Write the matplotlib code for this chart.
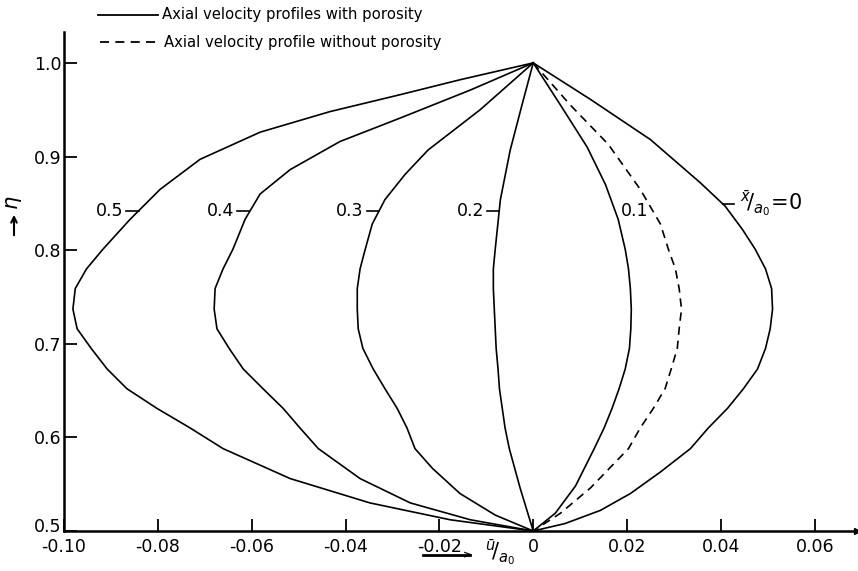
import matplotlib.pyplot as plt
from matplotlib.lines import Line2D
from matplotlib.transforms import ScaledTranslation

plt.rcParams['axes.unicode_minus'] = False
plt.rcParams['font.family'] = ['DejaVu Sans']

# axial velocity u/a0 against eta, one profile per x/a0 station
eta_05 = [1.0, 0.982, 0.966, 0.948, 0.926, 0.897, 0.865, 0.833, 0.801, 0.780, 0.759, 0.737,
          0.716, 0.695, 0.673, 0.652, 0.631, 0.610, 0.588, 0.556, 0.530, 0.512, 0.5]
u_05 = [0, -0.0156, -0.0284, -0.0433, -0.0582, -0.0710, -0.0795, -0.0859, -0.0917, -0.0952,
        -0.0976, -0.0981, -0.0972, -0.0942, -0.0908, -0.0866, -0.0802, -0.0731, -0.0661,
        -0.0518, -0.0348, -0.0177, 0]

eta_04 = [1.0, 0.971, 0.941, 0.916, 0.886, 0.860, 0.833, 0.801, 0.780, 0.759, 0.737, 0.716,
          0.695, 0.673, 0.652, 0.631, 0.610, 0.588, 0.556, 0.530, 0.512, 0.5]
u_04 = [0, -0.0134, -0.0284, -0.0412, -0.0518, -0.0582, -0.0614, -0.0640, -0.0661, -0.0678,
        -0.0680, -0.0674, -0.0648, -0.0618, -0.0576, -0.0533, -0.0497, -0.0458, -0.0369,
        -0.0262, -0.0134, 0]

eta_03 = [1.0, 0.950, 0.907, 0.881, 0.854, 0.828, 0.801, 0.780, 0.759, 0.737, 0.716, 0.695,
          0.673, 0.652, 0.631, 0.610, 0.588, 0.567, 0.540, 0.517, 0.5]
u_03 = [0, -0.0113, -0.0224, -0.0273, -0.0316, -0.0343, -0.0358, -0.0369, -0.0375, -0.0375,
        -0.0373, -0.0363, -0.0341, -0.0316, -0.0290, -0.0269, -0.0252, -0.0215, -0.0156,
        -0.0081, 0]

eta_02 = [1.0, 0.955, 0.907, 0.854, 0.801, 0.780, 0.759, 0.737, 0.716, 0.695, 0.673, 0.652,
          0.631, 0.610, 0.588, 0.546, 0.5]
u_02 = [0, -0.0024, -0.0049, -0.0070, -0.0081, -0.0085, -0.0085, -0.0083, -0.0081, -0.0079,
        -0.0075, -0.0072, -0.0066, -0.0060, -0.0051, -0.0028, 0]

eta_01 = [1.0, 0.955, 0.910, 0.870, 0.833, 0.801, 0.780, 0.759, 0.737, 0.716, 0.695, 0.673,
          0.652, 0.631, 0.610, 0.588, 0.548, 0.519, 0.5]
u_01 = [0, 0.0058, 0.0115, 0.0154, 0.0181, 0.0196, 0.0203, 0.0207, 0.0209, 0.0208, 0.0205,
        0.0196, 0.0183, 0.0168, 0.0151, 0.0130, 0.0090, 0.0047, 0]

eta_00 = [1.0, 0.961, 0.918, 0.872, 0.847, 0.822, 0.801, 0.780, 0.759, 0.737, 0.716, 0.695,
          0.673, 0.652, 0.631, 0.610, 0.588, 0.563, 0.540, 0.522, 0.508, 0.5]
u_00 = [0, 0.0122, 0.0250, 0.0356, 0.0409, 0.0446, 0.0473, 0.0495, 0.0508, 0.0510, 0.0505,
        0.0495, 0.0478, 0.0448, 0.0414, 0.0373, 0.0335, 0.0271, 0.0207, 0.0143, 0.0068, 0]

# profile without porosity (dashed)
eta_np = [1.0, 0.955, 0.913, 0.865, 0.828, 0.801, 0.780, 0.759, 0.737, 0.716, 0.695, 0.673,
          0.652, 0.631, 0.610, 0.588, 0.546, 0.519, 0.5]
u_np = [0, 0.0079, 0.0160, 0.0228, 0.0271, 0.0288, 0.0303, 0.0311, 0.0316, 0.0311, 0.0307,
        0.0294, 0.0281, 0.0256, 0.0228, 0.0203, 0.0122, 0.0058, 0]

curve_labels = ['0.5', '0.4', '0.3', '0.2']

x_ticks = [-0.10, -0.08, -0.06, -0.04, -0.02, 0, 0.02, 0.04, 0.06]
x_ticklabels = ['-0.10', '-0.08', '-0.06', '-0.04', '-0.02', '0', '0.02', '0.04', '0.06']
y_ticks = [0.5, 0.6, 0.7, 0.8, 0.9, 1.0]
y_ticklabels = ['0.5', '0.6', '0.7', '0.8', '0.9', '1.0']

W, H = 858, 571
fig = plt.figure(figsize=(W / 100, H / 100), dpi=100)
ax = fig.add_axes([64 / W, 40 / H, 793 / W, 499 / H])

lw = 1.2
for u, eta in [(u_05, eta_05), (u_04, eta_04), (u_03, eta_03), (u_02, eta_02),
               (u_01, eta_01), (u_00, eta_00)]:
    ax.plot(u, eta, color='black', lw=lw, solid_joinstyle='round')
ax.plot(u_np, eta_np, color='black', lw=lw, linestyle=(0, (5, 3.5)))

ax.set_xlim(-0.10, 0.069)
ax.set_ylim(0.5, 1.033)
ax.spines['top'].set_visible(False)
ax.spines['right'].set_visible(False)
ax.spines['left'].set_linewidth(1.8)
ax.spines['bottom'].set_linewidth(1.8)
ax.plot(1, 0, '>k', ms=5, transform=ax.transAxes, clip_on=False)

ax.set_xticks(x_ticks)
ax.set_xticklabels(x_ticklabels)
ax.set_yticks(y_ticks)
ax.set_yticklabels(y_ticklabels)
ax.tick_params(direction='in', length=9, width=1.3, labelsize=12.5)
ax.tick_params(axis='x', pad=5)
ax.tick_params(axis='y', pad=2)
# lowest y label sits a little above the axis, as in the original
lbl = ax.yaxis.get_major_ticks()[0].label1
lbl.set_transform(lbl.get_transform() + ScaledTranslation(0, 4 / 72, fig.dpi_scale_trans))

# curve labels with short leader ticks
lab_eta = 0.842
leaders = [(-0.0868, -0.0841), (-0.0632, -0.0605), (-0.0355, -0.0328), (-0.0099, -0.0072)]
for txt, (x0, x1) in zip(curve_labels, leaders):
    ax.plot([x0, x1], [lab_eta, lab_eta], color='black', lw=1.2)
    ax.text(x0 - 0.0006, lab_eta, txt, ha='right', va='center', fontsize=12.5)
ax.text(0.0186, lab_eta, '0.1', ha='left', va='center', fontsize=12.5)
ax.plot([0.0405, 0.0427], [0.849, 0.849], color='black', lw=1.2)
ax.text(0.0440, 0.849, r'$^{\bar{x}}\!/_{a_0}\!=\!0$', ha='left', va='center', fontsize=15)

# axis labels
fig.text(500 / W, 1 - 553 / H, r'$^{\bar{u}}\!/_{a_0}$', ha='center', va='center', fontsize=15)
fig.add_artist(Line2D([423 / W, 470 / W], [1 - 555 / H] * 2, color='black', lw=2))
fig.text(472 / W, 1 - 555 / H, '>', ha='right', va='center', fontsize=8, fontweight='bold')
fig.text(14 / W, 1 - 203 / H, r'$\eta$', ha='center', va='center', fontsize=15, rotation=90)
ax.annotate('', xy=(14 / W, 1 - 212 / H), xytext=(14 / W, 1 - 238 / H),
            xycoords='figure fraction',
            arrowprops=dict(arrowstyle='->', color='black', lw=1.5))

# legend
fig.add_artist(Line2D([98 / W, 158 / W], [1 - 15 / H] * 2, color='black', lw=1.3))
fig.text(162 / W, 1 - 15 / H, 'Axial velocity profiles with porosity', ha='left',
         va='center', fontsize=10.7)
fig.add_artist(Line2D([100 / W, 160 / W], [1 - 42 / H] * 2, color='black', lw=1.3,
                      linestyle=(0, (5, 3.5))))
fig.text(164 / W, 1 - 42 / H, 'Axial velocity profile without porosity', ha='left',
         va='center', fontsize=10.7)

fig.savefig('out.png', dpi=100)
